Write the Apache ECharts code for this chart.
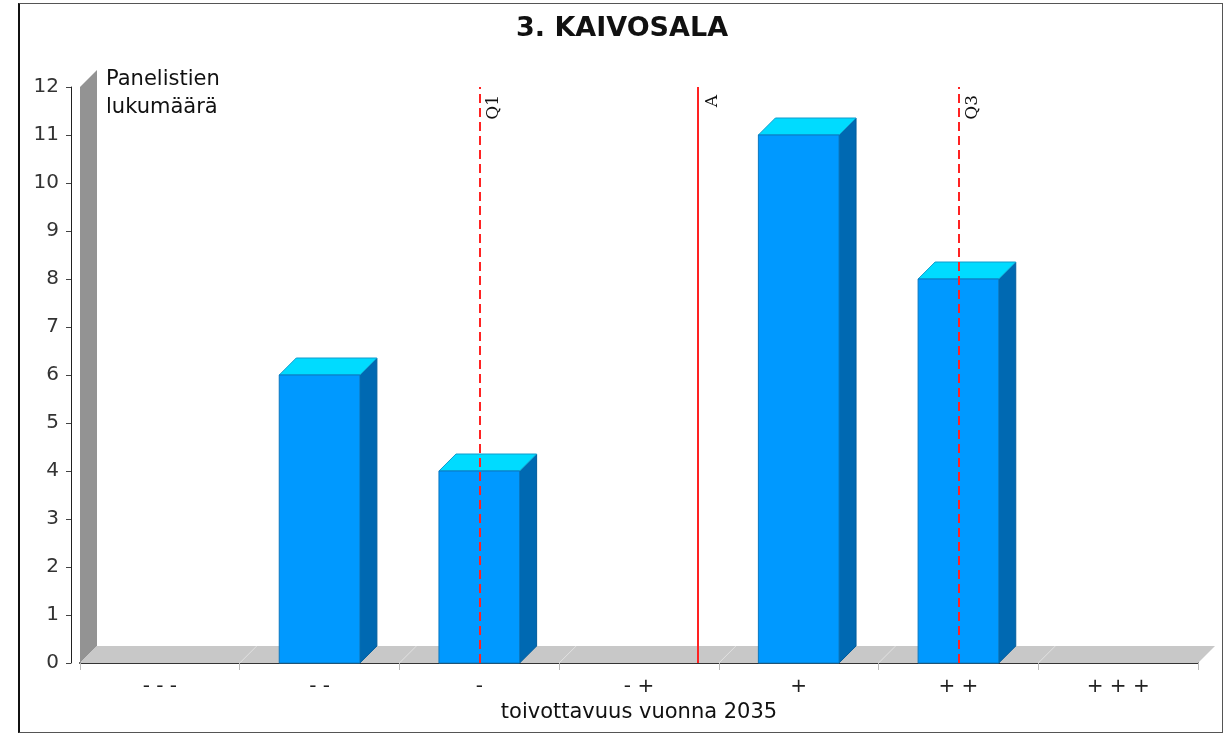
<!DOCTYPE html>
<html><head><meta charset="utf-8">
<script src="https://cdn.jsdelivr.net/npm/echarts@6/dist/echarts.min.js"></script>
<style>
html,body{margin:0;padding:0;background:#fff;}
#frame{position:absolute;left:18px;top:3px;width:1202px;height:728px;border:1px solid #555;border-left:2px solid #111;}
#chart{position:absolute;left:0;top:0;width:1224px;height:734px;}
</style></head><body>
<div id="frame"></div><div id="chart"></div>
<script>
// ---- data ----
const chartTitle = '3. KAIVOSALA';
const categories = ['- - -', '- -', '-', '- +', '+', '+ +', '+ + +'];
const counts = [0, 6, 4, 0, 11, 8, 0];
const markerNames = ['Q1', 'A', 'Q3'];
const markerPositions = [2.0, 3.37, 5.0];   // in category-index units
const markerDashed = [true, false, true];
const yMin = 0, yMax = 12, yStep = 1;
const xAxisName = 'toivottavuus vuonna 2035';
const yAxisName = 'Panelistien\nlukumäärä';

// ---- style ----
const D = 17;            // 3D depth in px
const FONT = 'DejaVu Sans';

function renderBackdrop(params, api) {
  if (params.dataIndex !== 0) return null;
  const cs = params.coordSys;
  const gx = cs.x, gy = cs.y, gw = cs.width, gh = cs.height;
  const yb = gy + gh;
  const children = [];
  // wall
  children.push({type: 'polygon', shape: {points: [[gx, yb], [gx, gy], [gx + D, gy - D], [gx + D, yb - D]]},
    style: {fill: '#939393'}});
  // floor
  children.push({type: 'polygon', shape: {points: [[gx, yb], [gx + gw, yb], [gx + gw + D, yb - D], [gx + D, yb - D]]},
    style: {fill: '#c8c8c8'}});
  const n = categories.length;
  for (let i = 1; i < n; i++) {
    const x = gx + gw * i / n;
    children.push({type: 'line', shape: {x1: x, y1: yb, x2: x + D, y2: yb - D},
      style: {stroke: '#e2e2e2', lineWidth: 1}});
  }
  return {type: 'group', children: children};
}

function renderBar(params, api) {
  const idx = api.value(0), v = api.value(1);
  if (!v) return null;
  const top = api.coord([idx, v]);
  const base = api.coord([idx, 0]);
  const bw = api.size([1, 0])[0];
  const w = bw * 0.505;
  const x0 = top[0] - w / 2, x1 = top[0] + w / 2, yt = top[1], yb = base[1];
  return {type: 'group', children: [
    {type: 'polygon', shape: {points: [[x1, yb], [x1, yt], [x1 + D, yt - D], [x1 + D, yb - D]]},
      style: {fill: '#0069b2', stroke: '#005c9c', lineWidth: 1}},
    {type: 'polygon', shape: {points: [[x0, yt], [x1, yt], [x1 + D, yt - D], [x0 + D, yt - D]]},
      style: {fill: '#00dbff', stroke: '#109ccc', lineWidth: 1}},
    {type: 'rect', shape: {x: x0, y: yt, width: w, height: yb - yt},
      style: {fill: '#0099ff', stroke: '#0a78c0', lineWidth: 1}}
  ]};
}

const markLineData = markerNames.map((n, i) => [
  {name: n, coord: [markerPositions[i], yMin],
   lineStyle: {type: markerDashed[i] ? [9, 5] : 'solid', color: '#ff2222', width: 2}},
  {coord: [markerPositions[i], yMax]}
]);

const chart = echarts.init(document.getElementById('chart'), null, {renderer: 'canvas'});
chart.setOption({
  animation: false,
  backgroundColor: 'transparent',
  textStyle: {fontFamily: FONT},
  graphic: [{
    type: 'text', x: 622, y: 15, z: 10,
    style: {text: chartTitle, align: 'center', verticalAlign: 'top',
      font: 'bold 27px "DejaVu Sans"', fill: '#111'}
  }],
  grid: {left: 80, top: 87, width: 1118, height: 576, containLabel: false},
  xAxis: [{
    type: 'category', data: categories, boundaryGap: true,
    axisLine: {show: true, onZero: false, lineStyle: {color: '#333', width: 2}},
    axisTick: {show: true, length: 7, lineStyle: {color: '#bbb'}},
    axisLabel: {fontSize: 20, color: '#222', margin: 14, fontFamily: FONT},
    splitLine: {show: false},
    name: xAxisName, nameLocation: 'middle', nameGap: 39,
    nameTextStyle: {fontSize: 21, color: '#111', fontFamily: FONT}
  }, {
    type: 'value', min: -0.5, max: categories.length - 0.5, show: false
  }],
  yAxis: {
    type: 'value', min: yMin, max: yMax, interval: yStep, offset: 9,
    axisLine: {show: true, onZero: false, lineStyle: {color: '#222', width: 1}},
    axisTick: {show: true, length: 5, lineStyle: {color: '#444'}},
    axisLabel: {fontSize: 20, color: '#333', margin: 12, fontFamily: FONT},
    splitLine: {show: false},
    name: yAxisName, nameLocation: 'end', nameGap: 21,
    nameTextStyle: {align: 'left', verticalAlign: 'top', fontSize: 21, lineHeight: 28,
      color: '#111', padding: [0, 0, 0, 35], fontFamily: FONT}
  },
  series: [{
    type: 'custom', name: 'backdrop', xAxisIndex: 0, yAxisIndex: 0, z: 1,
    renderItem: renderBackdrop, data: [[0, 0]], silent: true
  }, {
    type: 'custom', name: 'bars', xAxisIndex: 0, yAxisIndex: 0, z: 2,
    renderItem: renderBar, encode: {x: 0, y: 1},
    data: counts.map((v, i) => [i, v])
  }, {
    type: 'line', name: 'markers', xAxisIndex: 1, yAxisIndex: 0, z: 5, data: [],
    markLine: {
      silent: true, symbol: ['none', 'none'], animation: false,
      label: {show: true, formatter: '{b}', position: 'insideEndBottom', distance: [8, 6],
        fontFamily: 'DejaVu Serif', fontSize: 17, color: '#111'},
      data: markLineData
    }
  }]
});
</script>
</body></html>
